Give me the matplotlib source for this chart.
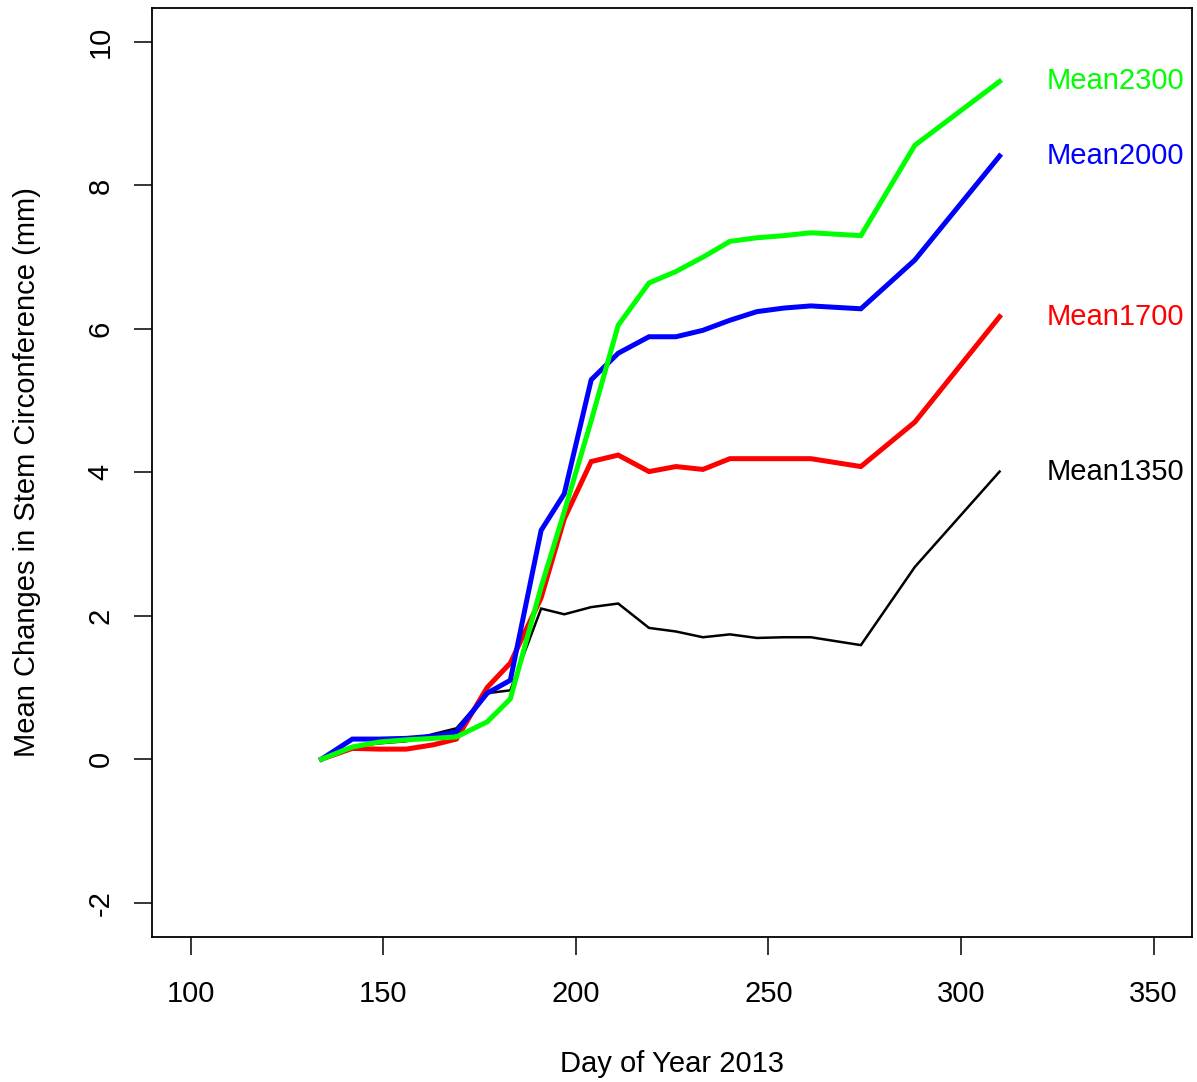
import matplotlib
matplotlib.use('Agg')
import matplotlib.pyplot as plt

# Day of year of each measurement
days = [134, 142, 149, 156, 163, 169, 177, 183, 191, 197, 204, 211,
        219, 226, 233, 240, 247, 254, 261, 274, 288, 310]

# Mean change in stem circumference (mm) per elevation
mean1350 = [0, 0.18, 0.22, 0.25, 0.35, 0.43, 0.92, 0.96, 2.10, 2.02, 2.12, 2.17,
            1.83, 1.78, 1.70, 1.74, 1.69, 1.70, 1.70, 1.59, 2.68, 4.01]
mean1700 = [0, 0.15, 0.14, 0.14, 0.20, 0.28, 1.00, 1.34, 2.25, 3.35, 4.15, 4.24,
            4.01, 4.08, 4.04, 4.19, 4.19, 4.19, 4.19, 4.08, 4.70, 6.17]
mean2000 = [0, 0.28, 0.28, 0.29, 0.32, 0.38, 0.92, 1.10, 3.19, 3.70, 5.29, 5.66,
            5.89, 5.89, 5.98, 6.12, 6.24, 6.29, 6.32, 6.28, 6.96, 8.41]
mean2300 = [0, 0.17, 0.24, 0.27, 0.29, 0.31, 0.52, 0.84, 2.40, 3.45, 4.72, 6.05,
            6.64, 6.80, 7.00, 7.22, 7.27, 7.30, 7.34, 7.30, 8.56, 9.45]

labels = ['Mean1350', 'Mean1700', 'Mean2000', 'Mean2300']
colors = ['black', '#FF0000', '#0000FF', '#00FF00']
widths = [1.8, 3.6, 3.6, 3.6]

plt.rcParams['font.family'] = ['Liberation Sans', 'DejaVu Sans']
plt.rcParams['axes.unicode_minus'] = False

fig = plt.figure(figsize=(11.97, 10.82), dpi=100)
ax = fig.add_axes([0.127, 0.134, 0.869, 0.859])

series = [mean1350, mean1700, mean2000, mean2300]
for vals, lab, col, lw in zip(series, labels, colors, widths):
    ax.plot(days, vals, color=col, linewidth=lw, solid_joinstyle='miter')
    ax.text(340, vals[-1], lab, color=col, fontsize=21, ha='center', va='center')

ax.set_xlim(90, 360)
ax.set_ylim(-2.48, 10.48)
ax.set_xticks([100, 150, 200, 250, 300, 350])
ax.set_yticks([-2, 0, 2, 4, 6, 8, 10])

ax.tick_params(axis='both', direction='out', length=13, width=1.1, labelsize=21)
ax.tick_params(axis='x', pad=18)
ax.tick_params(axis='y', pad=14)
for t in ax.get_yticklabels():
    t.set_rotation(90)
    t.set_va('center')

for sp in ax.spines.values():
    sp.set_linewidth(1.3)

ax.set_xlabel('Day of Year 2013', fontsize=21)
ax.set_ylabel('Mean Changes in Stem Circonference (mm)', fontsize=21)
ax.xaxis.set_label_coords(0.5, -0.122)
ax.yaxis.set_label_coords(-0.107, 0.5)

fig.savefig('out.png', dpi=100)
